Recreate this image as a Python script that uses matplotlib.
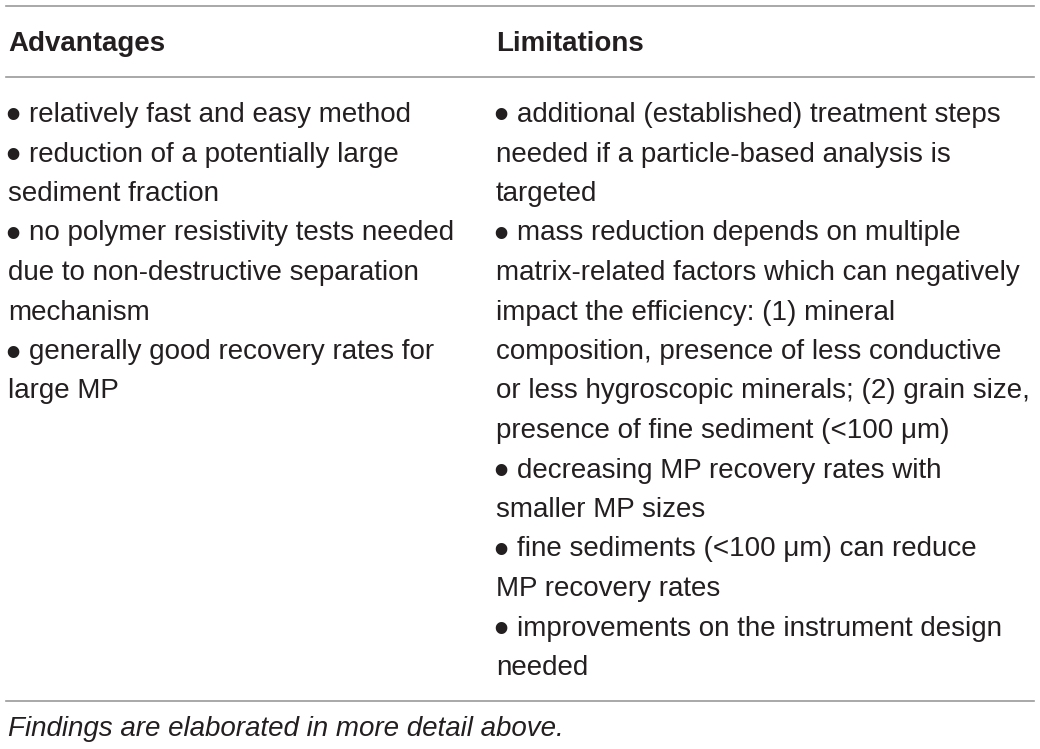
import matplotlib.pyplot as plt

W, H = 1040, 749

headers = ["Advantages", "Limitations"]

advantages = [
    "\u2022 relatively fast and easy method",
    "\u2022 reduction of a potentially large",
    "sediment fraction",
    "\u2022 no polymer resistivity tests needed",
    "due to non-destructive separation",
    "mechanism",
    "\u2022 generally good recovery rates for",
    "large MP",
]

limitations = [
    "\u2022 additional (established) treatment steps",
    "needed if a particle-based analysis is",
    "targeted",
    "\u2022 mass reduction depends on multiple",
    "matrix-related factors which can negatively",
    "impact the efficiency: (1) mineral",
    "composition, presence of less conductive",
    "or less hygroscopic minerals; (2) grain size,",
    "presence of fine sediment (<100 \u03bcm)",
    "\u2022 decreasing MP recovery rates with",
    "smaller MP sizes",
    "\u2022 fine sediments (<100 \u03bcm) can reduce",
    "MP recovery rates",
    "\u2022 improvements on the instrument design",
    "needed",
]

footnote = "Findings are elaborated in more detail above."

col_x = [8, 496]
text_color = "#231f20"
rule_color = "#9a9a9a"
fs = 20.0
font = "Liberation Sans"

fig = plt.figure(figsize=(W / 100, H / 100), dpi=100)
ax = fig.add_axes([0, 0, 1, 1])
ax.set_xlim(0, W)
ax.set_ylim(H, 0)
ax.axis("off")

# horizontal rules
for y in [5.5, 76.5, 700.5]:
    ax.plot([6, 1034], [y, y], color=rule_color, lw=1.2)

# headers
for x, h in zip(col_x, headers):
    ax.text(x, 51, h, fontsize=fs, fontweight="bold", family=font,
            color=text_color, va="baseline", ha="left")

# body lines, bullets drawn a bit larger like the original
y0, step = 122, 39.5
for x, lines in zip(col_x, [advantages, limitations]):
    for i, line in enumerate(lines):
        y = y0 + i * step
        if line.startswith("\u2022 "):
            ax.text(x - 2.5, y + 6.5, "\u2022", fontsize=fs * 1.55, family=font,
                    color=text_color, va="baseline", ha="left")
            line = line[2:]
            tx = x + 21
        else:
            tx = x
        ax.text(tx, y, line, fontsize=fs, family=font,
                color=text_color, va="baseline", ha="left")

ax.text(8, 736, footnote, fontsize=fs, family=font, style="italic",
        color=text_color, va="baseline", ha="left")

fig.savefig("out.png", dpi=100)
